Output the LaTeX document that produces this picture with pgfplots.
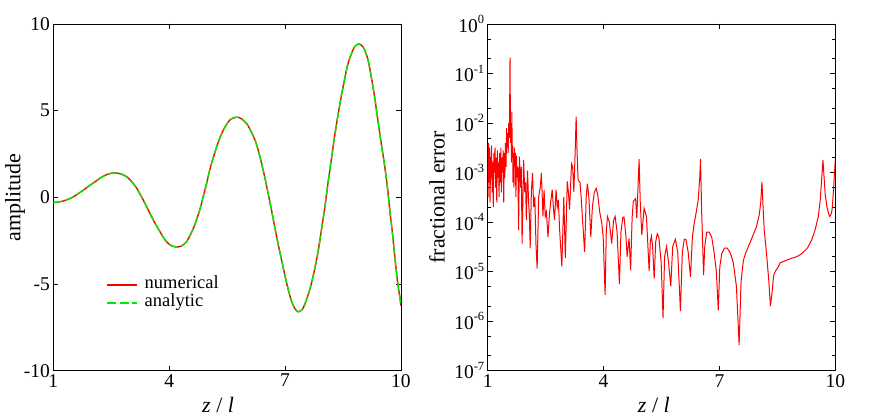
\documentclass[border=0pt]{standalone}
\usepackage{fontspec}
\setmainfont{Liberation Serif}
\usepackage{pgfplots}
\usepackage{pgfplotstable}
\pgfplotsset{compat=1.18}
\definecolor{myred}{RGB}{255,0,0}
\definecolor{mygreen}{RGB}{0,235,0}
\newcommand{\sps}[1]{\raisebox{8.5pt}{\fontsize{12.5}{13}\selectfont #1}}

\pgfplotstableread{
z y
1.00 -0.30
1.13 -0.27
1.26 -0.21
1.40 -0.10
1.52 0.03
1.65 0.22
1.78 0.42
1.95 0.70
2.12 0.96
2.25 1.16
2.38 1.31
2.50 1.39
2.61 1.41
2.75 1.35
2.90 1.19
3.03 0.90
3.16 0.52
3.33 -0.16
3.50 -0.92
3.63 -1.48
3.76 -1.98
3.87 -2.38
3.97 -2.65
4.08 -2.81
4.19 -2.87
4.32 -2.80
4.45 -2.56
4.55 -2.15
4.66 -1.60
4.79 -0.73
4.88 0.03
4.97 0.82
5.05 1.58
5.14 2.28
5.23 2.92
5.31 3.42
5.40 3.88
5.49 4.22
5.57 4.46
5.67 4.59
5.78 4.62
5.89 4.50
6.00 4.27
6.11 3.85
6.22 3.31
6.31 2.67
6.39 1.96
6.48 1.10
6.56 0.23
6.65 -0.75
6.73 -1.69
6.82 -2.70
6.91 -3.62
7.00 -4.55
7.08 -5.30
7.16 -5.95
7.25 -6.41
7.34 -6.60
7.45 -6.45
7.55 -5.93
7.66 -5.15
7.77 -4.10
7.86 -3.05
7.94 -1.89
8.03 -0.55
8.11 0.81
8.20 2.23
8.28 3.50
8.37 4.75
8.46 5.90
8.55 6.92
8.63 7.73
8.72 8.30
8.80 8.69
8.91 8.85
9.00 8.72
9.06 8.50
9.15 7.90
9.23 6.96
9.32 5.75
9.40 4.46
9.49 3.10
9.58 1.77
9.65 0.55
9.71 -0.73
9.78 -2.10
9.84 -3.43
9.91 -4.85
9.97 -5.75
10.00 -6.25
}\amp

\pgfplotstableread{
z e
1.00 2.5e-3
1.01 3.2e-4
1.02 4.0e-3
1.035 6.3e-4
1.05 3.2e-3
1.06 2.5e-4
1.075 2.0e-3
1.09 7.9e-4
1.10 3.5e-3
1.115 4.0e-4
1.13 1.6e-3
1.145 2.0e-4
1.16 2.5e-3
1.175 1.0e-3
1.19 3.2e-3
1.205 5.0e-4
1.22 2.0e-3
1.235 2.5e-4
1.25 2.8e-3
1.265 7.9e-4
1.28 1.6e-3
1.295 3.2e-4
1.31 2.5e-3
1.325 6.3e-4
1.34 3.2e-3
1.355 4.0e-4
1.37 2.0e-3
1.385 1.0e-3
1.40 2.8e-3
1.415 2.5e-4
1.43 2.5e-3
1.445 7.9e-4
1.46 4.0e-3
1.475 1.3e-3
1.49 7.9e-3
1.50 3.2e-3
1.515 6.3e-3
1.53 2.5e-3
1.545 1.0e-2
1.56 5.0e-3
1.57 3.2e-2
1.578 0.21
1.585 2.5e-2
1.595 4.0e-3
1.605 1.0e-2
1.615 1.6e-3
1.625 1.7e-2
1.635 2.5e-3
1.645 3.5e-3
1.655 6.3e-4
1.665 2.5e-3
1.68 5.0e-4
1.69 3.2e-3
1.70 1.3e-3
1.715 2.5e-3
1.73 3.2e-4
1.745 2.2e-3
1.76 7.9e-4
1.78 1.3e-3
1.80 6.9e-5
1.82 2.1e-3
1.855 5.0e-4
1.87 1.3e-3
1.89 3.7e-5
1.93 1.8e-3
1.96 4.0e-4
1.98 6.3e-4
2.00 1.1e-4
2.03 1.1e-3
2.06 2.5e-4
2.08 1.3e-4
2.10 3.0e-5
2.13 4.0e-4
2.16 9.8e-4
2.19 2.0e-4
2.22 3.2e-4
2.25 3.5e-5
2.28 1.15e-5
2.32 3.2e-4
2.36 5.0e-4
2.39 9.8e-4
2.43 1.3e-4
2.46 4.4e-4
2.49 1.3e-4
2.52 1.6e-4
2.56 5.0e-5
2.60 1.5e-4
2.63 2.5e-4
2.67 4.5e-4
2.70 2.0e-4
2.73 1.1e-4
2.77 4.5e-4
2.80 2.0e-4
2.83 2.8e-4
2.86 7.4e-5
2.92 1.26e-5
2.97 3.2e-4
3.01 1.9e-5
3.06 6.6e-4
3.09 4.0e-4
3.12 1.8e-4
3.17 1.5e-3
3.20 1.3e-3
3.23 4.1e-4
3.26 2.0e-3
3.29 1.35e-2
3.31 3.2e-3
3.34 7.1e-4
3.39 6.3e-4
3.42 3.2e-4
3.45 1.3e-4
3.51 2.5e-5
3.55 3.2e-4
3.58 6.0e-4
3.62 3.2e-4
3.67 5.0e-5
3.71 2.0e-4
3.76 4.0e-4
3.81 4.8e-4
3.85 3.5e-4
3.90 1.6e-4
3.95 1.0e-4
3.99 5.0e-5
4.04 3.4e-6
4.07 6.3e-5
4.10 1.3e-4
4.15 1.0e-4
4.21 3.7e-5
4.26 1.1e-4
4.30 1.3e-4
4.35 6.3e-5
4.41 5.6e-6
4.45 6.3e-5
4.50 1.26e-4
4.53 1.26e-4
4.58 5.0e-5
4.61 2.0e-5
4.66 4.7e-5
4.70 1.07e-5
4.74 1.26e-4
4.77 2.6e-4
4.83 3.0e-4
4.86 1.2e-4
4.92 1.86e-3
4.95 2.5e-4
4.99 5.5e-5
5.05 1.9e-4
5.11 1.3e-4
5.18 1.02e-5
5.21 4.0e-5
5.24 5.2e-5
5.27 3.2e-5
5.31 7.2e-6
5.35 4.0e-5
5.39 5.8e-5
5.43 5.0e-5
5.49 1.6e-5
5.54 1.17e-6
5.58 2.0e-5
5.63 3.2e-5
5.68 1.6e-5
5.74 5.1e-6
5.79 3.2e-5
5.86 4.5e-5
5.92 2.5e-5
5.99 1.6e-6
6.04 2.5e-5
6.09 4.5e-5
6.13 4.5e-5
6.19 2.5e-5
6.25 7.9e-6
6.30 5.0e-5
6.34 8.7e-5
6.40 1.6e-4
6.45 2.8e-4
6.49 7.9e-4
6.51 1.86e-3
6.54 1.6e-4
6.59 8.5e-6
6.62 3.2e-5
6.67 6.3e-5
6.73 6.3e-5
6.80 5.0e-5
6.86 2.5e-5
6.92 1.0e-5
6.97 1.66e-6
7.01 1.26e-5
7.06 2.3e-5
7.13 3.0e-5
7.20 3.0e-5
7.28 2.4e-5
7.36 1.5e-5
7.44 5.0e-6
7.51 3.3e-7
7.56 6.3e-6
7.62 1.7e-5
7.69 2.5e-5
7.75 3.2e-5
7.85 5.0e-5
7.96 8.1e-5
8.03 1.4e-4
8.07 2.5e-4
8.10 6.5e-4
8.13 2.0e-4
8.16 6.9e-5
8.22 2.3e-5
8.28 6.3e-6
8.32 2.0e-6
8.35 3.2e-6
8.37 4.3e-6
8.40 7.9e-6
8.42 9.1e-6
8.46 1.05e-5
8.51 1.2e-5
8.57 1.5e-5
8.70 1.66e-5
8.87 1.86e-5
9.00 2.0e-5
9.13 2.3e-5
9.28 3.0e-5
9.39 4.4e-5
9.48 7.1e-5
9.56 1.3e-4
9.61 2.8e-4
9.65 7.9e-4
9.68 1.8e-3
9.71 7.9e-4
9.74 3.5e-4
9.79 1.9e-4
9.83 1.45e-4
9.86 1.3e-4
9.90 1.5e-4
9.92 1.9e-4
9.95 4.0e-4
9.98 1.0e-3
10.00 1.8e-3
}\err

\begin{document}
\begin{tikzpicture}
\path[use as bounding box] (0,0) rectangle (872pt,419pt);
\pgfplotsset{
  every axis/.append style={
    scale only axis,
    axis line style={line width=0.9pt},
    tick style={black, line width=0.8pt},
    tick align=inside,
    major tick length=5pt,
    minor tick length=3pt,
    tick label style={font=\fontsize{19.5}{22}\selectfont},
    label style={font=\fontsize{22}{26}\selectfont},
    /pgf/number format/assume math mode=true,
  }
}
\begin{axis}[
  at={(53.3pt,48.3pt)}, anchor=south west,
  width=347.7pt, height=346.7pt,
  xmin=1, xmax=10, ymin=-10, ymax=10,
  xtick={1,4,7,10}, ytick={-10,-5,0,5,10},
  xlabel={\textit{z} / \textit{l}},
  ylabel={amplitude},
  xlabel style={at={(axis description cs:0.474,-0.122)}, anchor=base},
  ylabel style={at={(axis description cs:-0.110,0.5)}, anchor=center},
  legend style={draw=none, fill=none, inner sep=0pt,
    at={(axis description cs:0.152,0.271)}, anchor=north west,
    font=\fontsize{18.5}{20}\selectfont, row sep=2pt,
    nodes={inner sep=0pt, text height=12pt, text depth=4pt}},
  legend cell align=left,
  legend image code/.code={\draw[#1] (0pt,0pt) -- (30pt,0pt); \path (37pt,0pt);},
]
\addplot[myred, line width=1.4pt, smooth] table[x=z, y=y] {\amp};
\addplot[mygreen, line width=1.4pt, smooth, dash pattern=on 9pt off 3.5pt] table[x=z, y=y] {\amp};
\legend{numerical, analytic}
\end{axis}

\begin{axis}[
  at={(487.7pt,48.3pt)}, anchor=south west,
  width=347.6pt, height=346.7pt,
  ymode=log,
  xmin=1, xmax=10, ymin=1e-7, ymax=1,
  xtick={1,4,7,10},
  ytick={1e-7,1e-6,1e-5,1e-4,1e-3,1e-2,1e-1,1},
  yticklabels={10\sps{-7},10\sps{-6},10\sps{-5},10\sps{-4},10\sps{-3},10\sps{-2},10\sps{-1},10\sps{0}},
  minor ytick={2e-7,5e-7,2e-6,5e-6,2e-5,5e-5,2e-4,5e-4,2e-3,5e-3,2e-2,5e-2,2e-1,5e-1},
  xlabel={\textit{z} / \textit{l}},
  ylabel={fractional error},
  xlabel style={at={(axis description cs:0.478,-0.122)}, anchor=base},
  ylabel style={at={(axis description cs:-0.146,0.5)}, anchor=center},
]
\addplot[myred, line width=1pt] table[x=z, y=e] {\err};
\end{axis}
\end{tikzpicture}
\end{document}
